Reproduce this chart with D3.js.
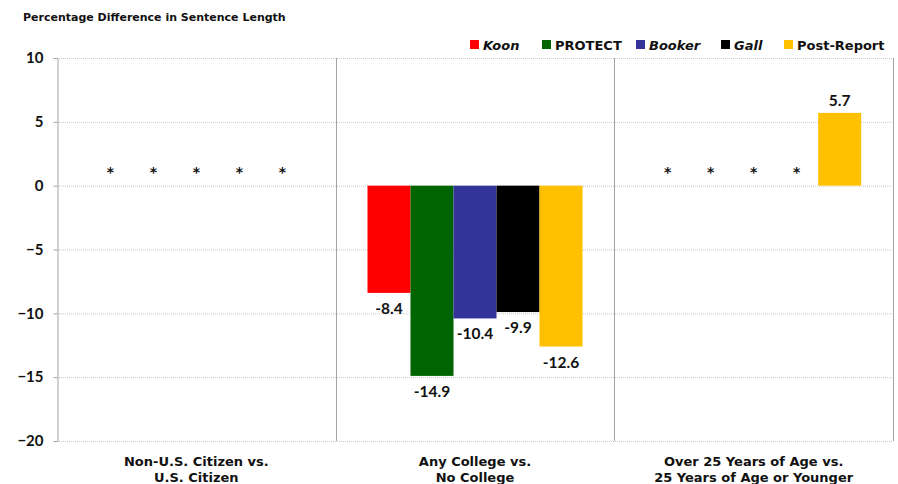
<!DOCTYPE html>
<html><head><meta charset="utf-8">
<script src="https://cdn.jsdelivr.net/npm/d3@7"></script>
<style>body{margin:0;background:#fff}svg{display:block}text{font-family:"DejaVu Sans",sans-serif;font-weight:700;fill:#111}.num{font-family:Lato,"Open Sans",sans-serif}</style>
</head><body><svg id="c" width="898" height="484"></svg>
<script>
const categories = [["Non-U.S. Citizen vs.","U.S. Citizen"],["Any College vs.","No College"],["Over 25 Years of Age vs.","25 Years of Age or Younger"]];
const series = ["Koon","PROTECT","Booker","Gall","Post-Report"];
const italicSeries = ["Koon","Booker","Gall"];
const colors = ["#ff0000","#006400","#333399","#000000","#ffc000"];
// null = not significant (shown as *)
const koon = [null, -8.4, null];
const protect = [null, -14.9, null];
const booker = [null, -10.4, null];
const gall = [null, -9.9, null];
const postReport = [null, -12.6, 5.7];
const values = [koon, protect, booker, gall, postReport];
const yTicks = [10,5,0,-5,-10,-15,-20];
const yTitle = "Percentage Difference in Sentence Length";

const svg = d3.select("#c");
const m = {l:57, r:5, t:58, b:43};
const W = 898, H = 484;
const x0 = d3.scaleBand().domain(d3.range(categories.length)).range([m.l, W-m.r]).paddingInner(0).paddingOuter(0);
const x1 = d3.scaleBand().domain(series).range([0, x0.bandwidth()]).paddingOuter(0.74).paddingInner(0);
const y = d3.scaleLinear().domain([-20,10]).range([H-m.b, m.t]);

// gridlines
svg.append("g").selectAll("line").data(yTicks).join("line")
  .attr("x1", m.l).attr("x2", W-m.r).attr("y1", d=>y(d)+0.5).attr("y2", d=>y(d)+0.5)
  .attr("stroke","#c8c8c8").attr("stroke-dasharray","1,1");

// group separators
svg.append("g").selectAll("line").data(d3.range(1, categories.length+1)).join("line")
  .attr("x1", i=>Math.round(x0(i-1)+x0.bandwidth())+0.5).attr("x2", i=>Math.round(x0(i-1)+x0.bandwidth())+0.5)
  .attr("y1", m.t).attr("y2", H-m.b).attr("stroke","#a6a6a6");

// y axis
const yAxis = d3.axisLeft(y).tickValues(yTicks).tickSize(4).tickPadding(10).tickFormat(d3.format("d"));
const ga = svg.append("g").attr("transform",`translate(${m.l+0.5},0)`).call(yAxis);
ga.select(".domain").attr("stroke","#a6a6a6");
ga.selectAll(".tick line").attr("stroke","#a6a6a6");
ga.selectAll(".tick text").attr("class","num").style("font-size","15px").attr("fill","#111").style("font-family","Lato,sans-serif").style("font-weight","700");

// bars
const groups = svg.append("g").selectAll("g").data(categories).join("g")
  .attr("transform",(d,i)=>`translate(${x0(i)},0)`);
groups.each(function(c, ci){
  const g = d3.select(this);
  series.forEach((s, si)=>{
    const v = values[si][ci];
    const bx = x1(s), bw = x1.bandwidth();
    if (v === null) {
      g.append("text").attr("x", bx+bw/2).attr("y", y(0)-9).attr("text-anchor","middle")
        .style("font-size","14px").text("*");
    } else {
      g.append("rect").attr("x", bx).attr("width", bw)
        .attr("y", y(Math.max(0,v))).attr("height", Math.abs(y(v)-y(0))).attr("fill", colors[si]);
      g.append("text").attr("class","num").attr("x", bx+bw/2).attr("y", v<0 ? y(v)+21 : y(v)-7).attr("text-anchor","middle")
        .style("font-size","15.5px").text(v.toFixed(1));
    }
  });
  const t = g.append("text").attr("text-anchor","middle").style("font-size","13px");
  c.forEach((line, li)=> t.append("tspan").attr("x", x0.bandwidth()/2).attr("y", 466+li*16).text(line));
});

// title
svg.append("text").attr("x", 23).attr("y", 21).style("font-size","11px").text(yTitle);

// legend
const legX = [470, 542, 636, 721, 784];
const lg = svg.append("g").selectAll("g").data(series).join("g").attr("transform",(d,i)=>`translate(${legX[i]},38)`);
lg.append("rect").attr("width",9).attr("height",9).attr("y",2).attr("fill",(d,i)=>colors[i]);
lg.append("text").attr("x",13).attr("y",11.5).style("font-size","13px")
  .style("font-style", d=>italicSeries.includes(d)?"italic":"normal").text(d=>d);
</script></body></html>
